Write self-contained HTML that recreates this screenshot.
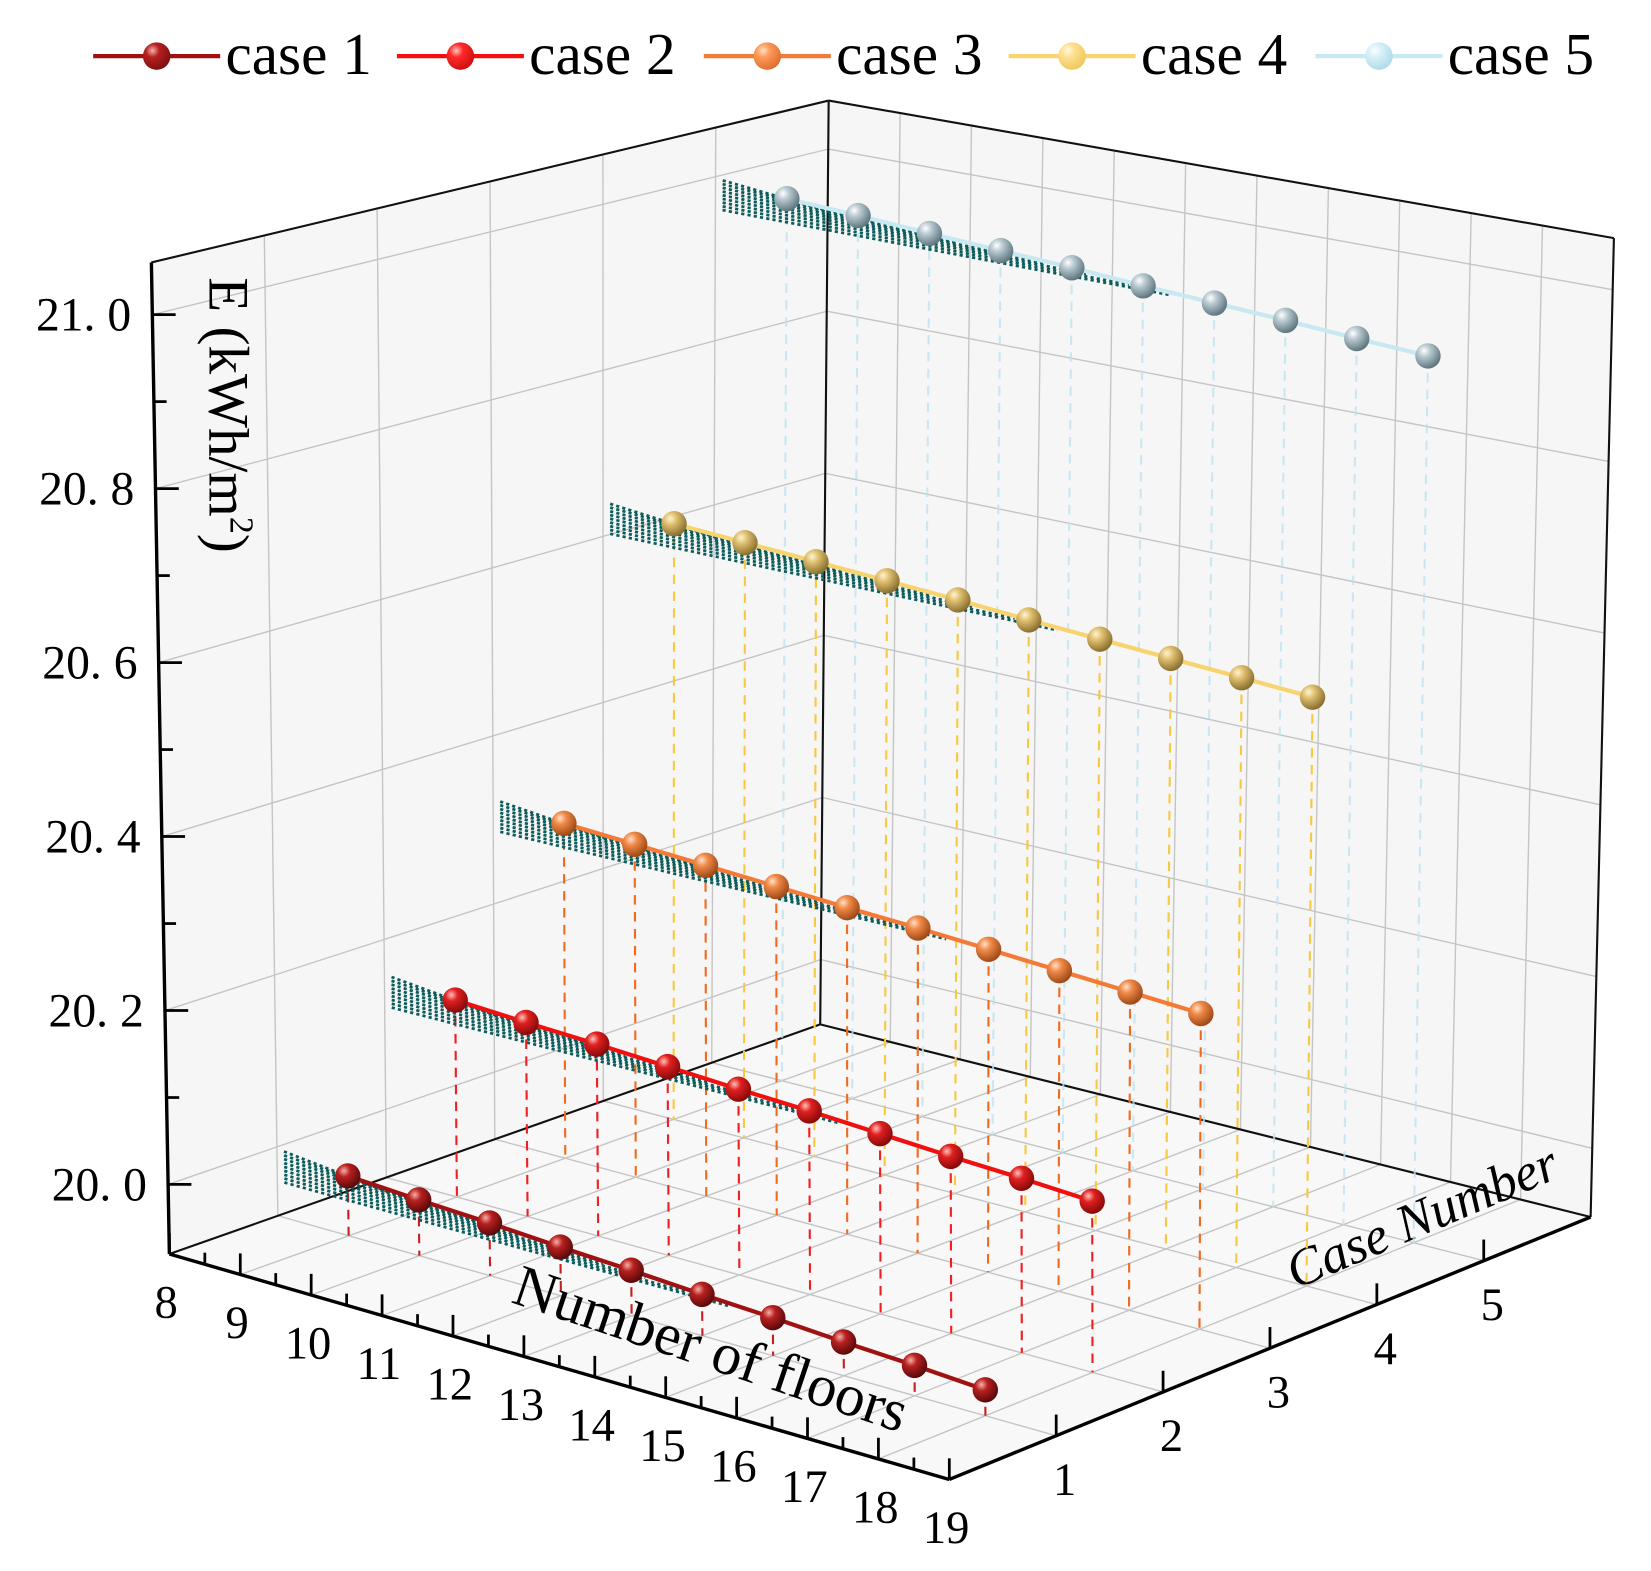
<!DOCTYPE html>
<html><head><meta charset="utf-8"><style>
html,body{margin:0;padding:0;background:#fff;}
svg{display:block;}
text{font-family:"Liberation Serif",serif;fill:#000;}
</style></head><body>
<svg id="chart" width="1651" height="1571" viewBox="0 0 1560 1484.5" xmlns="http://www.w3.org/2000/svg">
<defs>
<radialGradient id="g1" cx="35%" cy="30%" r="70%"><stop offset="0" stop-color="#f4b0a8"/><stop offset="0.35" stop-color="#b82020"/><stop offset="1" stop-color="#5a0a0a"/></radialGradient>
<radialGradient id="g2" cx="35%" cy="30%" r="70%"><stop offset="0" stop-color="#ffc0b8"/><stop offset="0.35" stop-color="#e02020"/><stop offset="1" stop-color="#8a0a0a"/></radialGradient>
<radialGradient id="g3" cx="35%" cy="30%" r="70%"><stop offset="0" stop-color="#ffe0c8"/><stop offset="0.35" stop-color="#f08a48"/><stop offset="1" stop-color="#a04a18"/></radialGradient>
<radialGradient id="g4" cx="35%" cy="30%" r="70%"><stop offset="0" stop-color="#fff4d0"/><stop offset="0.35" stop-color="#e0c070"/><stop offset="1" stop-color="#8a7030"/></radialGradient>
<radialGradient id="g5" cx="35%" cy="30%" r="70%"><stop offset="0" stop-color="#ffffff"/><stop offset="0.35" stop-color="#b8c8d0"/><stop offset="1" stop-color="#607880"/></radialGradient>
<radialGradient id="l1" cx="35%" cy="30%" r="70%"><stop offset="0" stop-color="#f4b0a8"/><stop offset="0.35" stop-color="#b82020"/><stop offset="1" stop-color="#801010"/></radialGradient>
<radialGradient id="l2" cx="35%" cy="30%" r="70%"><stop offset="0" stop-color="#ffc8c0"/><stop offset="0.35" stop-color="#ff2a2a"/><stop offset="1" stop-color="#d01010"/></radialGradient>
<radialGradient id="l3" cx="35%" cy="30%" r="70%"><stop offset="0" stop-color="#ffe0c8"/><stop offset="0.35" stop-color="#ff9a5a"/><stop offset="1" stop-color="#e07030"/></radialGradient>
<radialGradient id="l4" cx="35%" cy="30%" r="70%"><stop offset="0" stop-color="#fff8e0"/><stop offset="0.35" stop-color="#ffe090"/><stop offset="1" stop-color="#f0c860"/></radialGradient>
<radialGradient id="l5" cx="35%" cy="30%" r="70%"><stop offset="0" stop-color="#ffffff"/><stop offset="0.35" stop-color="#d8f0f8"/><stop offset="1" stop-color="#b0dcea"/></radialGradient>
</defs>
<g id="walls"></g>
<g id="grid"></g>
<g id="axes"></g>
<g id="labels"></g>
<g id="series"></g>
<g id="legend"></g>
</svg>
<script>
const floors = [9,10,11,12,13,14,15,16,17,18];
const caseNums = [1,2,3,4,5];
const case1 = [19.989,19.984,19.980,19.975,19.971,19.966,19.962,19.957,19.953,19.948];
const case2 = [20.150,20.145,20.141,20.136,20.131,20.127,20.122,20.117,20.113,20.108];
const case3 = [20.316,20.311,20.306,20.301,20.296,20.292,20.287,20.282,20.277,20.272];
const case4 = [20.633,20.628,20.623,20.618,20.613,20.607,20.602,20.597,20.592,20.587];
const case5 = [20.989,20.984,20.978,20.973,20.968,20.962,20.957,20.952,20.946,20.941];
const seriesNames = ["case 1","case 2","case 3","case 4","case 5"];
const floorTicks = [8,9,10,11,12,13,14,15,16,17,18,19];
const caseTicks = [1,2,3,4,5];
const zTicks = [20.0,20.2,20.4,20.6,20.8,21.0];
const zTickLabels = ["20. 0","20. 2","20. 4","20. 6","20. 8","21. 0"];

const allSeries=[case1,case2,case3,case4,case5];
const lineCols=["#a01212","#f01010","#f47a38","#f8d470","#c8e8f2"];
const dropCols=["#c82020","#f02020","#f06a20","#f8c840","#c0e4f0"];

const F0=8,F1=19,C0=0,C1=6,Z0=19.92,Z1=21.06;
const B={L:[160,1185],F:[897,1398],R:[1503,1150],K:[775,968]};
const T={L:[143,248],F:[885,378],R:[1525,225],K:[783,95]};
function bil(c,u,v,i){return c.L[i]*(1-u)*(1-v)+c.F[i]*u*(1-v)+c.R[i]*u*v+c.K[i]*(1-u)*v;}
function P(f,c,z){const u=(f-F0)/(F1-F0),v=(c-C0)/(C1-C0),w=(z-Z0)/(Z1-Z0);
 return [bil(B,u,v,0)*(1-w)+bil(T,u,v,0)*w, bil(B,u,v,1)*(1-w)+bil(T,u,v,1)*w];}
const NS="http://www.w3.org/2000/svg";
function mk(parent,tag,attrs){const e=document.createElementNS(NS,tag);for(const k in attrs)e.setAttribute(k,attrs[k]);parent.appendChild(e);return e;}
function line(parent,a,b,st){return mk(parent,'line',Object.assign({x1:a[0].toFixed(1),y1:a[1].toFixed(1),x2:b[0].toFixed(1),y2:b[1].toFixed(1)},st));}
function poly(pts){return pts.map(p=>p[0].toFixed(1)+','+p[1].toFixed(1)).join(' ');}

const walls=document.getElementById('walls');
let w1=mk(walls,'polygon',{points:poly([P(8,0,Z0),P(8,6,Z0),P(8,6,Z1),P(8,0,Z1)]),fill:'#f6f6f6'});


let w2=mk(walls,'polygon',{points:poly([P(8,6,Z0),P(19,6,Z0),P(19,6,Z1),P(8,6,Z1)]),fill:'#f6f6f6'});


let w3=mk(walls,'polygon',{points:poly([P(8,0,Z0),P(19,0,Z0),P(19,6,Z0),P(8,6,Z0)]),fill:'#f8f8f8'});



const grid=document.getElementById('grid');
const gs={stroke:'#c4c4c4','stroke-width':1.3};
caseTicks.forEach(c=>{
 let g1=line(grid,P(8,c,Z0),P(8,c,Z1),gs);
 
 
 let g2=line(grid,P(8,c,Z0),P(19,c,Z0),gs);
 
 
});
floorTicks.filter(f=>f>8&&f<19).forEach(f=>{
 let g1=line(grid,P(f,6,Z0),P(f,6,Z1),gs);
 
 
 let g2=line(grid,P(f,0,Z0),P(f,6,Z0),gs);
 
 
});
zTicks.forEach(z=>{
 let g1=line(grid,P(8,0,z),P(8,6,z),gs);
 
 
 let g2=line(grid,P(8,6,z),P(19,6,z),gs);
 
 
});

const axes=document.getElementById('axes');
const as={stroke:'#111','stroke-width':2};
[[P(8,0,Z1),P(8,6,Z1)],[P(8,6,Z1),P(19,6,Z1)],[P(8,6,Z0),P(8,6,Z1)],[P(19,6,Z0),P(19,6,Z1)],[P(8,0,Z0),P(8,6,Z0)],[P(8,6,Z0),P(19,6,Z0)]].forEach(s=>{
 let e=line(axes,s[0],s[1],as);
 
 
});
const ax={stroke:'#000','stroke-width':3.2};
let za=line(axes,P(8,0,Z0),P(8,0,Z1),ax);


let fa=line(axes,P(8,0,Z0),P(19,0,Z0),ax);


let ca=line(axes,P(19,0,Z0),P(19,6,Z0),ax);



const labels=document.getElementById('labels');
const ts={stroke:'#000','stroke-width':2.6};
zTicks.forEach((z,i)=>{
 const p=P(8,0,z);
 let t=line(axes,p,[p[0]+22,p[1]],ts);
 
 
 const pm=P(8,0,z+0.1);
 if(z+0.1<Z1){let m=line(axes,pm,[pm[0]+12,pm[1]],ts);
 
 }
 let tx=mk(labels,'text',{x:(p[0]-20).toFixed(1),y:(p[1]+15).toFixed(1),'text-anchor':'end','font-size':45});
 tx.textContent=zTickLabels[i];
 
 
});
floorTicks.forEach(f=>{
 const p=P(f,0,Z0);
 let t=line(axes,p,[p[0],p[1]-20],ts);
 
 
 if(f<19){const q=P(f+0.5,0,Z0);let m=line(axes,q,[q[0],q[1]-11],ts);
 
 }
 let tx=mk(labels,'text',{x:(p[0]-3).toFixed(1),y:(p[1]+60).toFixed(1),'text-anchor':'middle','font-size':44});
 tx.textContent=String(f);
 
 
});
caseTicks.forEach(c=>{
 const p=P(19,c,Z0);
 let t=line(axes,p,[p[0],p[1]-20],ts);
 
 
 let tx=mk(labels,'text',{x:(p[0]+8).toFixed(1),y:(p[1]+56).toFixed(1),'text-anchor':'middle','font-size':44});
 tx.textContent=String(c);
 
 
});
let zt=mk(labels,'text',{x:0,y:0,'font-size':54,transform:'translate(198,262) rotate(90)'});
zt.innerHTML='E (kWh/m<tspan font-size="32" dy="-20">2</tspan><tspan dy="20">)</tspan>';


let ft=mk(labels,'text',{x:0,y:0,'font-size':56,'text-anchor':'middle',transform:'translate(666,1292) rotate(18.5)'});
ft.textContent='Number of floors';


let ct=mk(labels,'text',{x:0,y:0,'font-size':50,'font-style':'italic','text-anchor':'middle',transform:'translate(1350,1165) rotate(-23)'});
ct.textContent='Case Number';



const series=document.getElementById('series');
for(let si=4;si>=0;si--){
 const vals=allSeries[si],c=caseNums[si];
 const g=mk(series,'g',{});
 
 
 floors.forEach((f,i)=>{
  let d=line(g,P(f,c,vals[i]),P(f,c,Z0),{stroke:dropCols[si],'stroke-width':2,'stroke-dasharray':'9 7',opacity:si===4?0.8:1});
  
  
 });
 for(let k=0;k<9;k++){
  const fe=9.6+k*0.6, ie=Math.min(floors.length-1,Math.floor(fe-9));
  const ze=vals[ie]+(vals[Math.min(ie+1,9)]-vals[ie])*(fe-9-ie);
  let b=line(g,P(8.1,c,vals[0]+0.008-k*0.0045),P(fe,c,ze-0.003),{stroke:'#0d5c5c','stroke-width':2.6,'stroke-dasharray':'3 3'});
  
  
 }
 let pl=mk(g,'polyline',{points:poly(floors.map((f,i)=>P(f,c,vals[i]))),fill:'none',stroke:lineCols[si],'stroke-width':4});
 
 
 floors.forEach((f,i)=>{
  const p=P(f,c,vals[i]);
  let m=mk(g,'circle',{cx:p[0].toFixed(1),cy:p[1].toFixed(1),r:12,fill:'url(#g'+(si+1)+')'});
  
  
 });
}

const legend=document.getElementById('legend');
const lx=[88,375,665,953,1243];
seriesNames.forEach((n,i)=>{
 const g=mk(legend,'g',{});
 
 
 mk(g,'line',{x1:lx[i],y1:53,x2:lx[i]+120,y2:53,stroke:lineCols[i],'stroke-width':4});
 mk(g,'circle',{cx:lx[i]+60,cy:53,r:13,fill:'url(#l'+(i+1)+')'});
 let t=mk(g,'text',{x:lx[i]+125,y:70,'font-size':56});
 t.textContent=n;
 
 
});
</script>
</body></html>
